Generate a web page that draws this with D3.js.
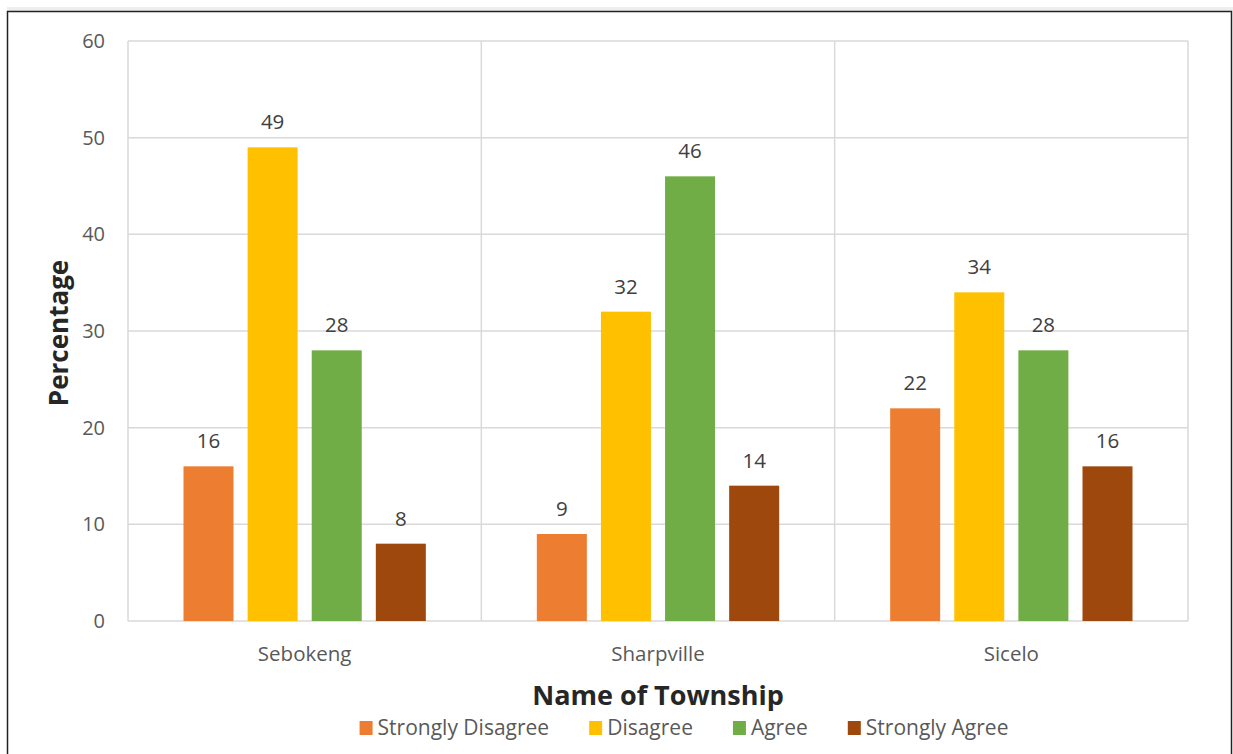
<!DOCTYPE html>
<html>
<head>
<meta charset="utf-8">
<script src="https://cdn.jsdelivr.net/npm/d3@7"></script>
<style>
    body { margin: 0; background: #fff; }
    svg { display: block; font-family: "Open Sans", sans-serif; }
</style>
</head>
<body>
<svg id="chart" width="1233" height="754"></svg>
<script>
// chart data
const townships = ['Sebokeng', 'Sharpville', 'Sicelo'];
const responses = ['Strongly Disagree', 'Disagree', 'Agree', 'Strongly Agree'];
const stronglyDisagree = [16, 9, 22];
const disagree = [49, 32, 34];
const agree = [28, 46, 28];
const stronglyAgree = [8, 14, 16];
const yTicks = [0, 10, 20, 30, 40, 50, 60];
const colors = ['#ED7D31', '#FFC000', '#70AD47', '#9E480E'];

const seriesValues = [stronglyDisagree, disagree, agree, stronglyAgree];

const svg = d3.select('#chart');
const plot = {left: 128, right: 1188, top: 41, bottom: 621};

// frame with a soft shadow on top
svg.append('rect').attr('x', 7).attr('y', 7).attr('width', 1226).attr('height', 4)
    .attr('fill', '#eee');
svg.append('rect')
    .attr('x', 7.5).attr('y', 11.5).attr('width', 1224).attr('height', 760)
    .attr('fill', '#fff').attr('stroke', '#222').attr('stroke-width', 1.5);

const x0 = d3.scaleBand().domain(townships).range([plot.left, plot.right]);
const x1 = d3.scaleBand().domain(responses)
    .range([55.5, x0.bandwidth() - 55.5])
    .paddingInner(0.22);
const y = d3.scaleLinear().domain([0, 60]).range([plot.bottom, plot.top]);

//horizontal gridlines
svg.append('g').selectAll('line').data(yTicks).join('line')
    .attr('x1', plot.left).attr('x2', plot.right)
    .attr('y1', d => y(d)).attr('y2', d => y(d))
    .attr('stroke', '#d9d9d9').attr('stroke-width', 1.5);

//vertical category separators
const edges = townships.map(t => x0(t)).concat([plot.right]);
svg.append('g').selectAll('line').data(edges).join('line')
    .attr('x1', d => d).attr('x2', d => d)
    .attr('y1', plot.top).attr('y2', plot.bottom)
    .attr('stroke', '#d9d9d9').attr('stroke-width', 1.5);

// y tick labels
svg.append('g').selectAll('text').data(yTicks).join('text')
    .attr('x', 105).attr('y', d => y(d))
    .attr('dy', '0.35em')
    .attr('text-anchor', 'end')
    .attr('font-size', 20).attr('fill', '#595959')
    .text(d => d);

// category labels
svg.append('g').selectAll('text').data(townships).join('text')
    .attr('x', d => x0(d) + x0.bandwidth() / 2).attr('y', 661)
    .attr('text-anchor', 'middle')
    .attr('font-size', 20.5).attr('fill', '#595959')
    .text(d => d);

// bars + labels
const groups = svg.append('g').selectAll('g').data(townships).join('g')
    .attr('transform', d => `translate(${x0(d)},0)`);

groups.selectAll('rect')
    .data((t, i) => responses.map((r, j) => ({r, j, v: seriesValues[j][i]})))
    .join('rect')
    .attr('x', d => x1(d.r)).attr('width', x1.bandwidth())
    .attr('y', d => y(d.v)).attr('height', d => y(0) - y(d.v))
    .attr('fill', d => colors[d.j]);

groups.selectAll('text')
    .data((t, i) => responses.map((r, j) => ({r, j, v: seriesValues[j][i]})))
    .join('text')
    .attr('x', d => x1(d.r) + x1.bandwidth() / 2)
    .attr('y', d => y(d.v) - 18)
    .attr('text-anchor', 'middle')
    .attr('font-size', 20.5).attr('fill', '#404040')
    .text(d => d.v);

// axis titles
svg.append('text')
    .attr('transform', `translate(68,${(plot.top + plot.bottom) / 2 + 2}) rotate(-90)`)
    .attr('text-anchor', 'middle')
    .attr('font-size', 26).attr('font-weight', 'bold').attr('fill', '#262626')
    .text('Percentage');

svg.append('text')
    .attr('x', 658).attr('y', 705)
    .attr('text-anchor', 'middle')
    .attr('font-size', 27).attr('font-weight', 'bold').attr('fill', '#262626')
    .text('Name of Township');

// legend, laid out by measured text width
const legend = svg.append('g');
const items = legend.selectAll('g').data(responses).join('g');
items.append('rect').attr('width', 13).attr('height', 14).attr('y', -14)
    .attr('fill', (d, i) => colors[i]);
items.append('text').attr('x', 18).attr('y', 0)
    .attr('font-size', 21).attr('fill', '#595959')
    .text(d => d);

let offset = 0;
items.each(function() {
    const w = 18 + d3.select(this).select('text').node().getComputedTextLength();
    d3.select(this).attr('transform', `translate(${offset},0)`);
    offset += w + 40;
});
const legendWidth = offset - 40;
legend.attr('transform', `translate(${684 - legendWidth / 2},735)`);
</script>
</body>
</html>
